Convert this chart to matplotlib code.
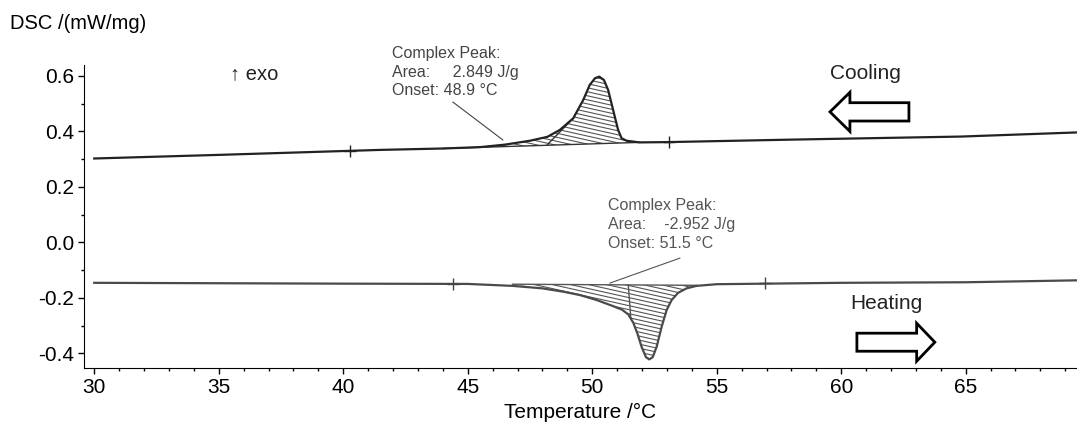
import matplotlib
matplotlib.use("Agg")
import matplotlib.pyplot as plt
import numpy as np
from matplotlib.patches import Polygon, FancyArrow
from matplotlib.ticker import MultipleLocator

plt.rcParams["font.family"] = ["Liberation Sans", "DejaVu Sans"]

# Cooling run (exothermic peak)
cool_temp = [30.0, 35.0, 41.5, 44.0, 45.5, 46.5, 47.5, 48.2, 48.7, 49.24, 49.64,
             49.9, 50.11, 50.28, 50.47, 50.64, 50.84, 51.04, 51.18, 51.38, 51.9,
             53.0, 58.0, 64.8, 69.5]
cool_dsc = [0.302, 0.315, 0.333, 0.338, 0.343, 0.352, 0.366, 0.380, 0.405, 0.447, 0.513,
            0.567, 0.591, 0.597, 0.585, 0.549, 0.477, 0.405, 0.375, 0.366, 0.360,
            0.361, 0.370, 0.381, 0.396]

# Heating run (endothermic peak)
heat_temp = [30.0, 40.0, 45.0, 46.8, 48.0, 48.84, 49.5, 50.18, 50.84, 51.2, 51.45,
             51.65, 51.82, 51.98, 52.16, 52.29, 52.43, 52.59, 52.79, 52.99, 53.19, 53.45,
             53.79, 54.19, 55.0, 60.0, 65.0, 69.5]
heat_dsc = [-0.146, -0.149, -0.150, -0.157, -0.166, -0.178, -0.190, -0.208, -0.230, -0.243, -0.260,
            -0.290, -0.330, -0.376, -0.414, -0.422, -0.414, -0.376, -0.304, -0.244, -0.208, -0.182,
            -0.166, -0.157, -0.151, -0.146, -0.144, -0.137]

# integration baselines (start, end) and onset split lines
cool_base_temp = [44.0, 51.9]
cool_base_dsc = [0.338, 0.360]
cool_split_temp = [49.24, 48.2]
cool_split_dsc = [0.447, 0.352]
heat_base_temp = [46.8, 54.19]
heat_base_dsc = [-0.151, -0.155]
heat_split_temp = [51.45, 51.55]
heat_split_dsc = [-0.154, -0.272]

# "+" marks along the curves
cool_mark_temp = [40.27, 53.08]
cool_mark_dsc = [0.329, 0.361]
heat_mark_temp = [44.42, 56.93]
heat_mark_dsc = [-0.150, -0.148]

cool_label = "Complex Peak:\nArea:     2.849 J/g\nOnset: 48.9 \u00b0C"
heat_label = "Complex Peak:\nArea:    -2.952 J/g\nOnset: 51.5 \u00b0C"


def peak_polygon(temp, dsc, base_t, base_d):
    t = np.array(temp)
    d = np.array(dsc)
    keep = (t > base_t[0]) & (t < base_t[1])
    xs = [base_t[0]] + list(t[keep]) + [base_t[1]]
    ys = [base_d[0]] + list(d[keep]) + [base_d[1]]
    return np.column_stack([xs + base_t[::-1], ys + base_d[::-1]])


def hatch(ax, verts, spacing=0.0145, slope=-0.02, color="#555555"):
    poly = Polygon(verts, closed=True, fc="none", ec="none")
    ax.add_patch(poly)
    x0, x1 = verts[:, 0].min(), verts[:, 0].max()
    y0, y1 = verts[:, 1].min(), verts[:, 1].max()
    span = abs(slope) * (x1 - x0)
    for off in np.arange(y0 - span, y1 + span, spacing):
        ln, = ax.plot([x0, x1], [off, off + slope * (x1 - x0)], color=color, lw=0.8)
        ln.set_clip_path(poly)


fig = plt.figure(figsize=(10.77, 4.28), dpi=100)
ax = fig.add_axes([0.078, 0.1395, 0.922, 0.7087])

hatch(ax, peak_polygon(cool_temp, cool_dsc, cool_base_temp, cool_base_dsc))
hatch(ax, peak_polygon(heat_temp, heat_dsc, heat_base_temp, heat_base_dsc))

ax.plot(cool_base_temp, cool_base_dsc, color="#333333", lw=1)
ax.plot(heat_base_temp, heat_base_dsc, color="#555555", lw=1)
ax.plot(cool_split_temp, cool_split_dsc, color="#333333", lw=1)
ax.plot(heat_split_temp, heat_split_dsc, color="#555555", lw=1)

ax.plot(cool_temp, cool_dsc, color="#222222", lw=1.6)
ax.plot(heat_temp, heat_dsc, color="#4a4a4a", lw=1.6)
ax.plot(cool_mark_temp, cool_mark_dsc, ls="none", marker="+", ms=9, mew=1, color="#222222")
ax.plot(heat_mark_temp, heat_mark_dsc, ls="none", marker="+", ms=9, mew=1, color="#444444")

# peak annotations
ax.text(41.94, 0.707, cool_label, fontsize=11.5, color="#444444", va="top",
        linespacing=1.3, clip_on=False)
ax.plot([44.41, 46.41], [0.505, 0.369], color="#444444", lw=0.8)
ax.text(50.64, 0.158, heat_label, fontsize=11.5, color="#555555", va="top",
        linespacing=1.3, clip_on=False)
ax.plot([53.52, 50.71], [-0.057, -0.147], color="#555555", lw=0.8)

ax.text(35.46, 0.606, "\u2191 exo", fontsize=14.5, va="center", color="#222222")
ax.text(59.55, 0.608, "Cooling", fontsize=15, va="center", color="#222222")
ax.text(60.38, -0.222, "Heating", fontsize=15, va="center", color="#222222")

ax.add_patch(FancyArrow(62.72, 0.470, -3.17, 0, width=0.066, head_width=0.141,
                        head_length=0.80, length_includes_head=True,
                        fc="white", ec="black", lw=2))
ax.add_patch(FancyArrow(60.63, -0.360, 3.13, 0, width=0.065, head_width=0.137,
                        head_length=0.73, length_includes_head=True,
                        fc="white", ec="black", lw=2))

ax.set_xlim(29.59, 69.47)
ax.set_ylim(-0.454, 0.639)
ax.xaxis.set_major_locator(MultipleLocator(5))
ax.xaxis.set_minor_locator(MultipleLocator(1))
ax.yaxis.set_major_locator(MultipleLocator(0.2))
ax.yaxis.set_minor_locator(MultipleLocator(0.1))
ax.yaxis.set_major_formatter(lambda v, p: f"{v:.1f}".replace("-0.0", "0.0"))
ax.tick_params(which="major", length=4, width=1, labelsize=15, pad=3)
ax.tick_params(which="minor", length=2.5, width=1)
for s in ["top", "right"]:
    ax.spines[s].set_visible(False)
ax.set_xlabel("Temperature /\u00b0C", fontsize=15, labelpad=4)
fig.text(0.009, 0.946, "DSC /(mW/mg)", fontsize=14.5, va="center")

fig.savefig("out.png", dpi=100)
